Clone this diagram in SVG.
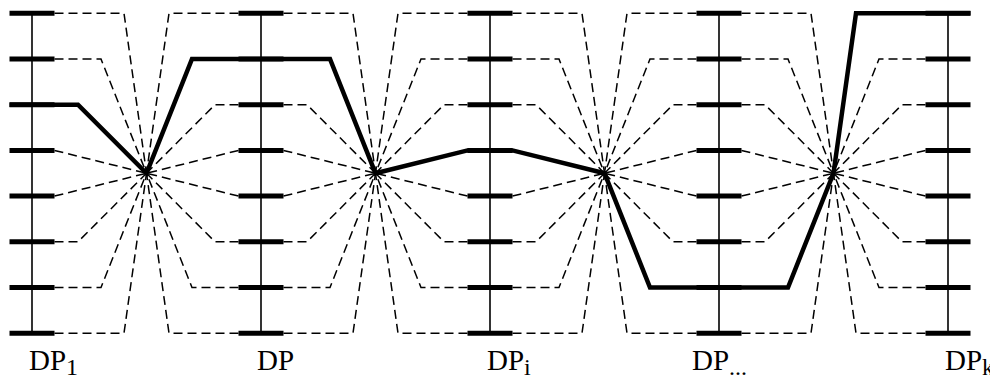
<svg xmlns="http://www.w3.org/2000/svg" width="990" height="376" viewBox="0 0 990 376">
<style>
.v{stroke:#000;stroke-width:1.6;fill:none}
.bar{stroke:#000;stroke-width:5;fill:none}
.d{stroke:#000;stroke-width:1.5;fill:none;stroke-dasharray:9 5}
.thick{stroke:#000;stroke-width:4.5;fill:none;stroke-linejoin:miter;stroke-miterlimit:10}
.lbl{font-family:"Liberation Serif","Times New Roman",serif;font-size:29px;fill:#000}
.sub{font-size:24px}
</style>
<rect width="990" height="376" fill="#fff"/>
<g id="connectors">
<path class="d" d="M54.5 13.3H124L146.5 173.25"/>
<path class="d" d="M54.5 59H101L146.5 173.25"/>
<path class="d" d="M54.5 150.4L146.5 173.25"/>
<path class="d" d="M54.5 196.1L146.5 173.25"/>
<path class="d" d="M54.5 241.8H78L146.5 173.25"/>
<path class="d" d="M54.5 287.5H101L146.5 173.25"/>
<path class="d" d="M54.5 333.2H124L146.5 173.25"/>
<path class="d" d="M238.5 13.3H169L146.5 173.25"/>
<path class="d" d="M238.5 104.7H215L146.5 173.25"/>
<path class="d" d="M238.5 150.4L146.5 173.25"/>
<path class="d" d="M238.5 196.1L146.5 173.25"/>
<path class="d" d="M238.5 241.8H215L146.5 173.25"/>
<path class="d" d="M238.5 287.5H192L146.5 173.25"/>
<path class="d" d="M238.5 333.2H169L146.5 173.25"/>
<path class="d" d="M283.5 13.3H353L375.5 173.25"/>
<path class="d" d="M283.5 104.7H307L375.5 173.25"/>
<path class="d" d="M283.5 150.4L375.5 173.25"/>
<path class="d" d="M283.5 196.1L375.5 173.25"/>
<path class="d" d="M283.5 241.8H307L375.5 173.25"/>
<path class="d" d="M283.5 287.5H330L375.5 173.25"/>
<path class="d" d="M283.5 333.2H353L375.5 173.25"/>
<path class="d" d="M467.5 13.3H398L375.5 173.25"/>
<path class="d" d="M467.5 59H421L375.5 173.25"/>
<path class="d" d="M467.5 104.7H444L375.5 173.25"/>
<path class="d" d="M467.5 196.1L375.5 173.25"/>
<path class="d" d="M467.5 241.8H444L375.5 173.25"/>
<path class="d" d="M467.5 287.5H421L375.5 173.25"/>
<path class="d" d="M467.5 333.2H398L375.5 173.25"/>
<path class="d" d="M512.5 13.3H582L604.5 173.25"/>
<path class="d" d="M512.5 59H559L604.5 173.25"/>
<path class="d" d="M512.5 104.7H536L604.5 173.25"/>
<path class="d" d="M512.5 196.1L604.5 173.25"/>
<path class="d" d="M512.5 241.8H536L604.5 173.25"/>
<path class="d" d="M512.5 287.5H559L604.5 173.25"/>
<path class="d" d="M512.5 333.2H582L604.5 173.25"/>
<path class="d" d="M696.5 13.3H627L604.5 173.25"/>
<path class="d" d="M696.5 59H650L604.5 173.25"/>
<path class="d" d="M696.5 104.7H673L604.5 173.25"/>
<path class="d" d="M696.5 150.4L604.5 173.25"/>
<path class="d" d="M696.5 196.1L604.5 173.25"/>
<path class="d" d="M696.5 241.8H673L604.5 173.25"/>
<path class="d" d="M696.5 333.2H627L604.5 173.25"/>
<path class="d" d="M741.5 13.3H811L833.5 173.25"/>
<path class="d" d="M741.5 59H788L833.5 173.25"/>
<path class="d" d="M741.5 104.7H765L833.5 173.25"/>
<path class="d" d="M741.5 150.4L833.5 173.25"/>
<path class="d" d="M741.5 196.1L833.5 173.25"/>
<path class="d" d="M741.5 241.8H765L833.5 173.25"/>
<path class="d" d="M741.5 333.2H811L833.5 173.25"/>
<path class="d" d="M925.5 59H879L833.5 173.25"/>
<path class="d" d="M925.5 104.7H902L833.5 173.25"/>
<path class="d" d="M925.5 150.4L833.5 173.25"/>
<path class="d" d="M925.5 196.1L833.5 173.25"/>
<path class="d" d="M925.5 241.8H902L833.5 173.25"/>
<path class="d" d="M925.5 287.5H879L833.5 173.25"/>
<path class="d" d="M925.5 333.2H856L833.5 173.25"/>
<path class="thick" d="M9.5 104.7H78L146.5 173.25L192 59H330L375.5 173.25L467.5 150.4H512.5L604.5 173.25L650 287.5H788L833.5 173.25L856 13.3H970.5"/>
</g>
<g id="dp1">
<path class="v" d="M32 13.3V333.2"/>
<path class="bar" d="M9.5 13.3h45M9.5 59h45M9.5 104.7h45M9.5 150.4h45M9.5 196.1h45M9.5 241.8h45M9.5 287.5h45M9.5 333.2h45"/>
<text class="lbl" x="29" y="370">DP<tspan class="sub" dy="5">1</tspan></text>
</g>
<g id="dp2">
<path class="v" d="M261 13.3V333.2"/>
<path class="bar" d="M238.5 13.3h45M238.5 59h45M238.5 104.7h45M238.5 150.4h45M238.5 196.1h45M238.5 241.8h45M238.5 287.5h45M238.5 333.2h45"/>
<text class="lbl" x="257" y="370">DP</text>
</g>
<g id="dpi">
<path class="v" d="M490 13.3V333.2"/>
<path class="bar" d="M467.5 13.3h45M467.5 59h45M467.5 104.7h45M467.5 150.4h45M467.5 196.1h45M467.5 241.8h45M467.5 287.5h45M467.5 333.2h45"/>
<text class="lbl" x="487" y="370">DP<tspan class="sub" dy="5">i</tspan></text>
</g>
<g id="dpdots">
<path class="v" d="M719 13.3V333.2"/>
<path class="bar" d="M696.5 13.3h45M696.5 59h45M696.5 104.7h45M696.5 150.4h45M696.5 196.1h45M696.5 241.8h45M696.5 287.5h45M696.5 333.2h45"/>
<text class="lbl" x="692" y="370">DP<tspan class="sub" dy="5">...</tspan></text>
</g>
<g id="dpk">
<path class="v" d="M948 13.3V333.2"/>
<path class="bar" d="M925.5 13.3h45M925.5 59h45M925.5 104.7h45M925.5 150.4h45M925.5 196.1h45M925.5 241.8h45M925.5 287.5h45M925.5 333.2h45"/>
<text class="lbl" x="945" y="370">DP<tspan class="sub" dy="5">k</tspan></text>
</g>
</svg>
